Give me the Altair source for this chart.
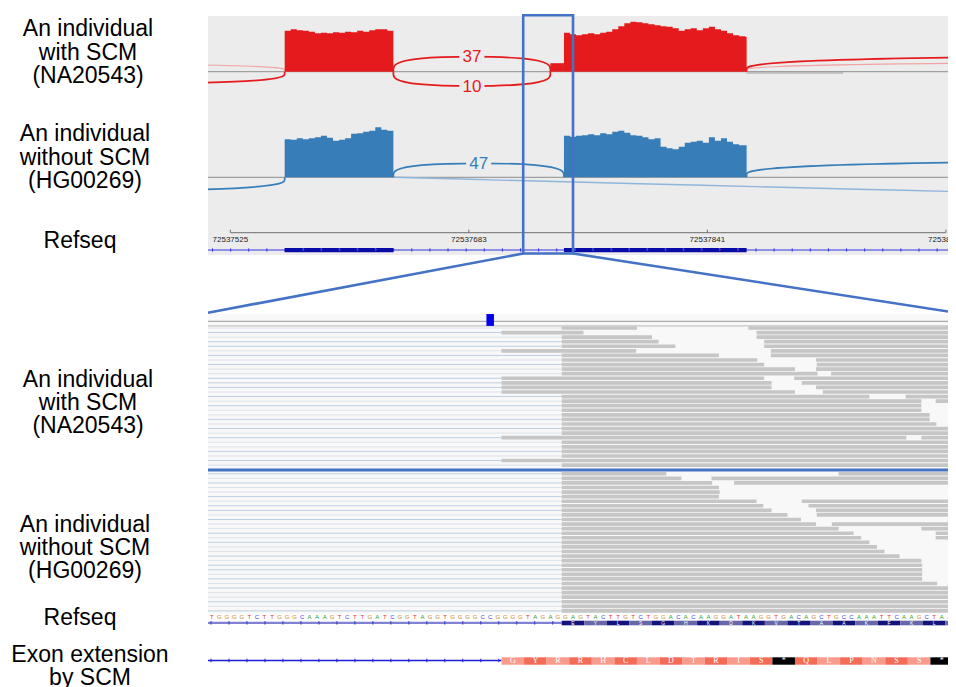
import altair as alt
import pandas as pd

# ============================ DATA ============================
# --- sashimi panel (genomic coordinates) ---
VIEW = [72537510.2, 72538005.7]
RULER_TICKS = [72537525, 72537683, 72537841, 72537999]
RULER_LABELS = ["72537525", "72537683", "72537841", "72538000"]
EXONS = [[72537561, 72537633], [72537746, 72537867]]
EXT_START = 72537737          # acceptor used by the SCM allele
ZOOM = [72537719, 72537752]   # region enlarged in the lower panel

BIN = 4  # bp per coverage bin
RED_E1 = [82, 85, 83, 82, 80, 77, 78, 77, 79, 78, 80, 79, 82, 80, 83, 85, 85, 82]
RED_EXT = [17]
RED_E2 = [78, 75, 73, 75, 77, 75, 78, 80, 85, 91, 97, 100, 99, 97, 95, 93, 91, 90,
          87, 82, 85, 87, 83, 87, 90, 85, 82, 77, 73, 71, 70]
BLUE_E1 = [76, 75, 78, 76, 78, 80, 83, 79, 73, 75, 78, 87, 88, 91, 93, 100, 95, 93]
BLUE_E2 = [83, 81, 83, 84, 86, 84, 88, 86, 91, 93, 89, 84, 83, 80, 76, 78, 61, 58,
           56, 61, 69, 71, 73, 69, 80, 73, 78, 71, 66, 64, 64]

# splice junctions (sashimi arcs)
J_SAMPLE = ["NA20543"] * 6 + ["HG00269"] * 4
J_START = [72537633, 72537633, 72537250, 72537867, 72536900, 72537867,
           72537633, 72537250, 72537867, 72537633]
J_END = [72537737, 72537737, 72537561, 72538667, 72537561, 72538900,
         72537746, 72537561, 72538667, 72540633]
J_READS = [37, 10, None, None, None, None, 47, None, None, None]
J_SIDE = [1, -1, -1, 1, 1, 1, 1, -1, 1, -1]
J_HEIGHT = [31.3, 30.0, 26.4, 33.6, 19.2, 21.0, 29.2, 28.8, 35.0, 79.0]
J_KIND = ["main", "main", "main", "main", "faint", "faint",
          "main", "main", "main", "long"]

# --- zoomed read panel (base index within the enlarged window) ---
BASES_VIEW = [0, 99.4]
VARIANT_B = 37
EXT_B = 39
EXON_B = 47
E = 130  # reads continuing past the window
NA_READS = [
    [(47, 57.0), (71.8, E)], [(39, 49.9), (72.9, E)], [(47, 59.0), (72.9, E)],
    [(47, 59.9), (73.9, E)], [(47, 62.1), (73.9, E)], [(39, 56.9), (74.8, E)],
    [(47, 67.9), (74.8, E)], [(47, 73.0), (80.8, E)], [(47, 73.9), (80.9, E)],
    [(47, 78.0), (80.8, E)], [(47, 81.0), (82.8, E)], [(39, 73.9), (77.9, E)],
    [(39, 74.9), (78.9, E)], [(39, 74.9), (80.8, E)], [(39, 78.0), (81.7, E)],
    [(47, 87.9), (92.7, E)], [(47, 94.8), (96.7, E)], [(47, 94.8), (98.7, E)],
    [(47, 94.8)], [(47, 95.9)], [(47, 95.9)], [(47, 96.8)],
    [(47, E)], [(47, E)], [(39, 92.8), (94.8, E)],
    [(47, E)], [(47, E)], [(47, E)], [(47, E)], [(39, E)], [(47, E)],
]
HG_READS = [
    [(47, 60.9), (83.8, E)], [(47, 62.9), (66.9, E)], [(47, 67.0), (69.9, E)],
    [(47, 67.9)], [(47, 68.0)], [(47, 67.9)],
    [(47, 72.9), (78.9, E)], [(47, 73.8), (79.8, E)], [(47, 74.9), (80.8, E)],
    [(47, 77.0), (80.9, E)], [(47, 78.8)], [(47, 80.8), (82.9, E)],
    [(47, 83.8), (94.8, E)], [(47, 85.8), (96.7, E)], [(47, 86.8), (96.7, E)],
    [(47, 87.9), (98.8, E)], [(47, 88.9), (98.6, E)],
    [(47, 89.9)], [(47, 91.9)], [(47, 94.8)],
    [(47, 94.9)], [(47, 94.9)], [(47, 94.9)], [(47, 94.9)], [(47, 96.9)],
    [(47, E)], [(47, E)], [(47, E)], [(47, E)], [(47, E)], [(47, E)],
]
NA_SHADE = [0, 1, 0, 1, 1, 0, 1, 0, 1, 0, 0, 1, 1, 1, 0, 1, 0, 1, 0, 0, 1, 0, 1, 0, 1, 0, 0, 1, 0, 1, 0]
HG_SHADE = [1, 0, 1, 0, 0, 1, 0, 1, 1, 0, 1, 0, 0, 1, 0, 1, 0, 0, 1, 0, 1, 1, 0, 1, 0, 1, 0, 0, 1, 0, 1]

SEQ = ("TGGGGTCTTGGGCAAAGTCTTGATCGGTAGGTGGGGCCGGGGTAGAG"
       "GAGTACTTGTCTGGACACAAGGATAAGGTGACAGCTGCCAAATTCAAGCTAAC")
AA_REF = list("EYLSGHKDKVTAAKFKL") + [""]
AA_EXT = list("GYRRHCLDTRIS*QLPNSS*") + [""]

LEFT_LABELS = [
    ["An individual", "with SCM", "(NA20543)"],
    ["An individual", "without SCM", "(HG00269)"],
    ["Refseq"],
    ["An individual", "with SCM", "(NA20543)"],
    ["An individual", "without SCM", "(HG00269)"],
    ["Refseq"],
    ["Exon extension", "by SCM"],
]

# ============================ LAYOUT ============================
CW, CH = 940, 679
PL = 200          # panel left edge inside the chart
PR = 948          # panel right edge (the last pixels fall outside the page)
LABEL_POS = [(80, 20.0), (77, 125.0), (72, 232), (80, 370.3), (77, 515.3), (72, 608.7), (82, 645.3)]
LINE_H = 23.4
PANEL_TOP, PANEL_BOT = 8, 247
RULER_Y, RULER_TICK_TOP, RULER_LABEL_Y = 224.7, 221.7, 231.8
REFSEQ_Y, REFSEQ_EXON = 242, (240, 244.3)
BOX_Y = (7.3, 245.5)
CONN_Y = 304.7
LOW_TOP, LOW_BOT = 306, 605.5
LINE1_Y, LINE2_Y = 313.3, 317.9
SEP_Y = 462
SEQ_Y = 609.0
REF2_BAND, REF2_BOX, REF2_TXT = (613.7, 616.0), (612.7, 617.3), 615.3
EXT_LINE, EXT_BOX, EXT_TXT = 652.5, (649.3, 656.7), 653.3
FONT = "Liberation Sans"


def S(domain, rng):
    return alt.Scale(domain=list(domain), range=list(rng), nice=False, zero=False)


XT = S(VIEW, [PL, PR])
XB = S(BASES_VIEW, [PL, PR])
XL = S([0, CW], [0, CW])
YL = S([0, CH], [0, CH])
Y_TRACK = {"NA20543": S([0, 100], [63.7, 13.7]), "HG00269": S([0, 100], [169.3, 119.3])}
Y_ROWS = {"NA20543": S([0, 31], [317.7, 459.4]), "HG00269": S([0, 31], [463.5, 605.2])}
COL = {"NA20543": "#E41A1C", "HG00269": "#377EB8"}
FAINT = {"NA20543": "#F2A3A3", "HG00269": "#9DBFDF"}
BASE_COL = {"A": "#2A9E2A", "C": "#3A3AEE", "G": "#D0862A", "T": "#EE3030"}


def X(f, sc):
    return alt.X(f, type="quantitative", scale=sc, axis=None)


def Y(f, sc):
    return alt.Y(f, type="quantitative", scale=sc, axis=None)


layers = []

# ---------- sashimi panel ----------
layers.append(alt.Chart(pd.DataFrame({"a": [VIEW[0]], "b": [VIEW[1]], "t": [PANEL_TOP], "u": [PANEL_BOT]}))
              .mark_rect(color="#ECECEC", clip=True).encode(x=X("a", XT), x2="b", y=Y("t", YL), y2="u"))

COV = {"NA20543": (RED_E1, RED_EXT, RED_E2), "HG00269": (BLUE_E1, None, BLUE_E2)}


def cov_df(e1, ext, e2):
    segs = [(EXONS[0][0], EXONS[0][1], e1)]
    if ext is not None:
        segs.append((EXT_START, EXONS[1][0], ext))
    segs.append((EXONS[1][0], EXONS[1][1], e2))
    rows = []
    for si, (a, b, vals) in enumerate(segs):
        step = BIN if len(vals) > 1 else b - a
        for i, v in enumerate(vals):
            rows.append({"seg": si, "pos": a + i * step, "depth": v, "zero": 0})
        rows.append({"seg": si, "pos": b, "depth": vals[-1], "zero": 0})
    return pd.DataFrame(rows)


def arcs_df(sample, kind):
    rows = []
    for j in range(len(J_START)):
        if J_SAMPLE[j] != sample or J_KIND[j] != kind:
            continue
        s, e, h = J_START[j], J_END[j], J_SIDE[j] * J_HEIGHT[j]
        pts = [(s, 0), ((s + e) / 2, h), (e, 0)] if kind == "long" else [(s, 0), (s, h), (e, h), (e, 0)]
        for k, (x, y) in enumerate(pts):
            rows.append({"id": j, "k": k, "pos": x, "v": y})
    return pd.DataFrame(rows)


BOX_PATH = "M-1.45,-0.72L1.45,-0.72L1.45,0.72L-1.45,0.72Z"

for smp in ["NA20543", "HG00269"]:
    ys = Y_TRACK[smp]
    layers.append(alt.Chart(pd.DataFrame({"a": [VIEW[0]], "b": [VIEW[1]], "v": [0]}))
                  .mark_rule(color="#8E8E8E", strokeWidth=1, clip=True)
                  .encode(x=X("a", XT), x2="b", y=Y("v", ys)))
    fa = arcs_df(smp, "faint")
    if len(fa):
        layers.append(alt.Chart(fa).mark_line(interpolate="basis", color=FAINT[smp], strokeWidth=1.1, clip=True)
                      .encode(x=X("pos", XT), y=Y("v", ys), detail="id:N", order="k:Q"))
    lo = arcs_df(smp, "long")
    if len(lo):
        layers.append(alt.Chart(lo).mark_line(interpolate="natural", color="#8FB5DA", strokeWidth=1.4, clip=True)
                      .encode(x=X("pos", XT), y=Y("v", ys), detail="id:N", order="k:Q"))
    e1, ext, e2 = COV[smp]
    layers.append(alt.Chart(cov_df(e1, ext, e2)).mark_area(interpolate="step-after", color=COL[smp], clip=True)
                  .encode(x=X("pos", XT), y=alt.Y("depth:Q", scale=ys, axis=None, stack=None), y2="zero",
                          detail="seg:N"))
    ma = arcs_df(smp, "main")
    layers.append(alt.Chart(ma).mark_line(interpolate="basis", color=COL[smp], strokeWidth=1.7, clip=True)
                  .encode(x=X("pos", XT), y=Y("v", ys), detail="id:N", order="k:Q"))
    lab = [{"pos": (J_START[j] + J_END[j]) / 2, "v": J_SIDE[j] * 0.958 * J_HEIGHT[j], "txt": str(J_READS[j])}
           for j in range(len(J_START)) if J_SAMPLE[j] == smp and J_READS[j] is not None]
    lab = pd.DataFrame(lab)
    layers.append(alt.Chart(lab).mark_point(shape=BOX_PATH, filled=True, color="#ECECEC", opacity=1, size=300)
                  .encode(x=X("pos", XT), y=Y("v", ys)))
    layers.append(alt.Chart(lab).mark_text(font=FONT, fontSize=17, color=COL[smp], baseline="middle", dy=0.5)
                  .encode(x=X("pos", XT), y=Y("v", ys), text="txt:N"))

# small grey segment right of exon 2 (NA20543)
layers.append(alt.Chart(pd.DataFrame({"a": [EXONS[1][1]], "b": [72537931], "v": [-2.6]}))
              .mark_rule(color="#A0A0A0", strokeWidth=1).encode(x=X("a", XT), x2="b", y=Y("v", Y_TRACK["NA20543"])))

# ruler
layers.append(alt.Chart(pd.DataFrame({"a": [RULER_TICKS[0]], "b": [RULER_TICKS[-1]], "y": [RULER_Y]}))
              .mark_rule(color="#6E6E6E", strokeWidth=1).encode(x=X("a", XT), x2="b", y=Y("y", YL)))
tick_df = pd.DataFrame({"p": RULER_TICKS, "lab": RULER_LABELS, "t": RULER_TICK_TOP, "u": RULER_Y, "ly": RULER_LABEL_Y})
layers.append(alt.Chart(tick_df).mark_rule(color="#6E6E6E", strokeWidth=1, clip=True)
              .encode(x=X("p", XT), y=Y("t", YL), y2="u"))
layers.append(alt.Chart(tick_df).mark_text(font=FONT, fontSize=8, color="#222222", baseline="middle")
              .encode(x=X("p", XT), y=Y("ly", YL), text="lab:N"))

# refseq (top)
layers.append(alt.Chart(pd.DataFrame({"a": [VIEW[0]], "b": [VIEW[1]], "y": [REFSEQ_Y]}))
              .mark_rule(color="#3434E0", strokeWidth=1, clip=True).encode(x=X("a", XT), x2="b", y=Y("y", YL)))
rt = [VIEW[0] + 3 + 12 * k for k in range(42)]
layers.append(alt.Chart(pd.DataFrame({"p": rt, "t": REFSEQ_Y - 1.6, "u": REFSEQ_Y + 1.6}))
              .mark_rule(color="#3434E0", strokeWidth=1, clip=True).encode(x=X("p", XT), y=Y("t", YL), y2="u"))
layers.append(alt.Chart(pd.DataFrame({"a": [e[0] for e in EXONS], "b": [e[1] for e in EXONS],
                                      "t": REFSEQ_EXON[0], "u": REFSEQ_EXON[1]}))
              .mark_rect(color="#0A0AA6").encode(x=X("a", XT), x2="b", y=Y("t", YL), y2="u"))
chev = [p for p in rt if any(e[0] + 4 < p < e[1] - 4 for e in EXONS)]
layers.append(alt.Chart(pd.DataFrame({"p": chev, "y": REFSEQ_Y, "s": "›"}))
              .mark_text(font=FONT, fontSize=7, color="#8A8AF5", baseline="middle")
              .encode(x=X("p", XT), y=Y("y", YL), text="s:N"))

# ---------- zoomed read panel ----------
layers.append(alt.Chart(pd.DataFrame({"a": [BASES_VIEW[0]], "b": [BASES_VIEW[1]], "t": [LOW_TOP], "u": [LOW_BOT]}))
              .mark_rect(color="#F8F8F8", clip=True).encode(x=X("a", XB), x2="b", y=Y("t", YL), y2="u"))
layers.append(alt.Chart(pd.DataFrame({"a": [0, 0], "b": [BASES_VIEW[1]] * 2, "y": [LINE1_Y, LINE2_Y],
                                      "c": ["#ABABAB", "#D4D4D4"], "w": [1.2, 1.6]}))
              .mark_rule(clip=True).encode(x=X("a", XB), x2="b", y=Y("y", YL), color=alt.Color("c:N", scale=None),
                                           strokeWidth=alt.StrokeWidth("w:Q", scale=None)))
layers.append(alt.Chart(pd.DataFrame({"a": [VARIANT_B], "b": [VARIANT_B + 1], "t": [LOW_TOP], "u": [LINE2_Y]}))
              .mark_rect(color="#0000EE").encode(x=X("a", XB), x2="b", y=Y("t", YL), y2="u"))

for smp, reads, shade in [("NA20543", NA_READS, NA_SHADE), ("HG00269", HG_READS, HG_SHADE)]:
    ys = Y_ROWS[smp]
    lines = pd.DataFrame({"a": 0, "b": [min(s[0] for s in segs) for segs in reads],
                          "y": [r + 0.5 for r in range(len(reads))],
                          "c": ["#BCCFE1" if s else "#DCE3EA" for s in shade]})
    layers.append(alt.Chart(lines).mark_rule(strokeWidth=1)
                  .encode(x=X("a", XB), x2="b", y=Y("y", ys), color=alt.Color("c:N", scale=None)))
    rd = pd.DataFrame([{"a": a, "b": b, "t": r + 0.1, "u": r + 0.9}
                       for r, segs in enumerate(reads) for a, b in segs])
    layers.append(alt.Chart(rd).mark_rect(color="#C6C6C6", clip=True)
                  .encode(x=X("a", XB), x2="b", y=Y("t", ys), y2="u"))

layers.append(alt.Chart(pd.DataFrame({"a": [BASES_VIEW[0]], "b": [BASES_VIEW[1]], "y": [SEP_Y]}))
              .mark_rule(color="#4472C4", strokeWidth=2.8, clip=True).encode(x=X("a", XB), x2="b", y=Y("y", YL)))

# reference sequence
seq_df = pd.DataFrame({"p": [i + 0.5 for i in range(len(SEQ))], "b": list(SEQ), "y": SEQ_Y,
                       "c": [BASE_COL[ch] for ch in SEQ]})
layers.append(alt.Chart(seq_df).mark_text(font=FONT, fontSize=6, baseline="middle", clip=True)
              .encode(x=X("p", XB), y=Y("y", YL), text="b:N", color=alt.Color("c:N", scale=None)))

# refseq (zoomed)
TICK_STEP = 2.39
layers.append(alt.Chart(pd.DataFrame({"a": [0], "b": [EXON_B], "t": [REF2_BAND[0]], "u": [REF2_BAND[1]]}))
              .mark_rect(color="#8282D4").encode(x=X("a", XB), x2="b", y=Y("t", YL), y2="u"))
rt2 = [0.4 + TICK_STEP * k for k in range(20)]
layers.append(alt.Chart(pd.DataFrame({"p": rt2, "t": REF2_BAND[0] - 0.6, "u": REF2_BAND[1] + 0.6}))
              .mark_rule(color="#3A3AB5", strokeWidth=1).encode(x=X("p", XB), y=Y("t", YL), y2="u"))
ref_df = pd.DataFrame({"a": [EXON_B + 3 * k for k in range(len(AA_REF))],
                       "b": [EXON_B + 3 * k + 3 for k in range(len(AA_REF))],
                       "m": [EXON_B + 3 * k + 1.5 for k in range(len(AA_REF))],
                       "aa": AA_REF, "t": REF2_BOX[0], "u": REF2_BOX[1], "ty": REF2_TXT,
                       "c": ["#13137B" if k % 2 == 0 else "#6868A8" for k in range(len(AA_REF))]})
layers.append(alt.Chart(ref_df).mark_rect(clip=True)
              .encode(x=X("a", XB), x2="b", y=Y("t", YL), y2="u", color=alt.Color("c:N", scale=None)))
layers.append(alt.Chart(ref_df).mark_text(font=FONT, fontSize=5, color="white", baseline="middle", clip=True)
              .encode(x=X("m", XB), y=Y("ty", YL), text="aa:N"))

# exon extension by SCM
layers.append(alt.Chart(pd.DataFrame({"a": [0], "b": [EXT_B], "y": [EXT_LINE]}))
              .mark_rule(color="#1E1ED2", strokeWidth=1.5).encode(x=X("a", XB), x2="b", y=Y("y", YL)))
rt3 = [0.4 + TICK_STEP * k for k in range(17)]
layers.append(alt.Chart(pd.DataFrame({"p": rt3, "t": EXT_LINE - 1.8, "u": EXT_LINE + 1.8}))
              .mark_rule(color="#1E1ED2", strokeWidth=1).encode(x=X("p", XB), y=Y("t", YL), y2="u"))
ext_df = pd.DataFrame({"a": [EXT_B + 3 * k for k in range(len(AA_EXT))],
                       "b": [EXT_B + 3 * k + 3 for k in range(len(AA_EXT))],
                       "m": [EXT_B + 3 * k + 1.5 for k in range(len(AA_EXT))],
                       "aa": AA_EXT, "t": EXT_BOX[0], "u": EXT_BOX[1], "ty": EXT_TXT,
                       "c": ["#000000" if a == "*" else ("#F99B8C" if k % 2 == 0 else "#F36C56")
                             for k, a in enumerate(AA_EXT)]})
layers.append(alt.Chart(ext_df).mark_rect(clip=True)
              .encode(x=X("a", XB), x2="b", y=Y("t", YL), y2="u", color=alt.Color("c:N", scale=None)))
layers.append(alt.Chart(ext_df).mark_text(font="Liberation Serif", fontSize=8, color="white", baseline="middle", clip=True)
              .encode(x=X("m", XB), y=Y("ty", YL), text="aa:N"))

# ---------- zoom box and connectors ----------
layers.append(alt.Chart(pd.DataFrame({"a": [ZOOM[0]], "b": [ZOOM[1]], "t": [BOX_Y[0]], "u": [BOX_Y[1]]}))
              .mark_rect(fillOpacity=0, stroke="#4472C4", strokeWidth=2.6)
              .encode(x=X("a", XT), x2="b", y=Y("t", YL), y2="u"))
layers.append(alt.Chart(pd.DataFrame({"a": ZOOM, "b": VIEW, "t": [BOX_Y[1]] * 2, "u": [CONN_Y] * 2}))
              .mark_rule(color="#4472C4", strokeWidth=2.6, clip=True)
              .encode(x=X("a", XT), x2="b", y=Y("t", YL), y2="u"))

# ---------- label column ----------
layers.append(alt.Chart(pd.DataFrame({"a": [0], "b": [PL], "t": [0], "u": [CH]}))
              .mark_rect(color="white").encode(x=X("a", XL), x2="b", y=Y("t", YL), y2="u"))
lab_rows = []
for (lx, ly), lines in zip(LABEL_POS, LEFT_LABELS):
    for i, t in enumerate(lines):
        lab_rows.append({"x": lx, "y": ly + i * LINE_H + 1.3, "t": t})
layers.append(alt.Chart(pd.DataFrame(lab_rows)).mark_text(font=FONT, fontSize=23, color="black", baseline="middle")
              .encode(x=X("x", XL), y=Y("y", YL), text="t:N"))

chart = (alt.layer(*layers)
         .resolve_scale(x="independent", y="independent")
         .properties(width=CW, height=CH, padding=0, autosize=alt.AutoSizeParams(type="none"))
         .configure_view(stroke=None))

chart.save("out.html", embed_options={"renderer": "svg", "actions": False})
